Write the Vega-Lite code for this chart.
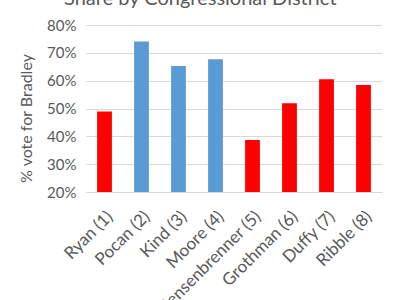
{
  "$schema": "https://vega.github.io/schema/vega-lite/v6.json",
  "autosize": "none",
  "width": 296,
  "height": 167,
  "padding": {"left": 86, "top": 25, "right": 18, "bottom": 108},
  "background": "white",
  "title": {
    "text": "Share by Congressional District",
    "font": "Lato",
    "fontSize": 20,
    "fontWeight": "normal",
    "color": "#595959",
    "anchor": "middle",
    "frame": "bounds",
    "baseline": "alphabetic",
    "offset": -7
  },
  "data": {
    "values": [
      {"district": "Ryan (1)", "share": 0.489, "party": "R"},
      {"district": "Pocan (2)", "share": 0.741, "party": "D"},
      {"district": "Kind (3)", "share": 0.653, "party": "D"},
      {"district": "Moore (4)", "share": 0.677, "party": "D"},
      {"district": "Sensenbrenner (5)", "share": 0.387, "party": "R"},
      {"district": "Grothman (6)", "share": 0.519, "party": "R"},
      {"district": "Duffy (7)", "share": 0.605, "party": "R"},
      {"district": "Ribble (8)", "share": 0.584, "party": "R"}
    ]
  },
  "config": {
    "view": {"stroke": null},
    "font": "Lato"
  },
  "mark": {"type": "bar", "clip": true},
  "encoding": {
    "x": {
      "field": "district",
      "type": "nominal",
      "sort": null,
      "scale": {"paddingInner": 0.6, "paddingOuter": 0.3},
      "axis": {
        "title": null,
        "labelAngle": -45,
        "labelAlign": "right",
        "labelBaseline": "top",
        "labelFont": "Lato",
        "labelFontSize": 17,
        "labelColor": "#595959",
        "labelPadding": 16,
        "ticks": false,
        "domainColor": "#d9d9d9",
        "domainWidth": 1
      }
    },
    "y": {
      "field": "share",
      "type": "quantitative",
      "scale": {"domain": [0.2, 0.8], "nice": false, "zero": false},
      "axis": {
        "title": "% vote for Bradley",
        "titleFont": "Lato",
        "titleFontSize": 16,
        "titleFontWeight": "normal",
        "titleColor": "#595959",
        "titlePadding": 12,
        "titleY": 93,
        "format": ".0%",
        "values": [0.2, 0.3, 0.4, 0.5, 0.6, 0.7, 0.8],
        "labelFont": "Lato",
        "labelFontSize": 15,
        "labelColor": "#595959",
        "labelPadding": 10,
        "ticks": false,
        "domain": false,
        "gridColor": "#d9d9d9",
        "gridWidth": 1
      }
    },
    "color": {
      "field": "party",
      "type": "nominal",
      "scale": {"domain": ["D", "R"], "range": ["#5b9bd5", "#ff0000"]},
      "legend": null
    }
  }
}
